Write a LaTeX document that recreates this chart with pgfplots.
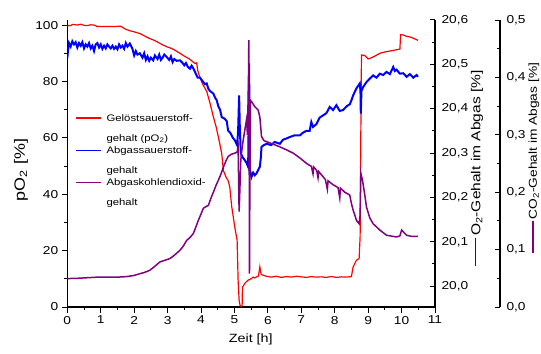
\documentclass[border=0pt]{standalone}
\usepackage{fontspec}
\setmainfont{Liberation Sans}[FakeStretch=1.2]
\usepackage{pgfplots}
\pgfplotsset{compat=1.18}
\definecolor{cRed}{RGB}{255,0,0}
\definecolor{cBlue}{RGB}{0,0,255}
\definecolor{cPurple}{RGB}{128,0,128}

\pgfplotsset{
 base/.style={
  scale only axis, height=287bp, xmin=0,
  axis line style={line width=1.3bp},
  tick style={black, line width=1bp},
  major tick length=5.5bp, minor tick length=3bp,
  tick label style={font=\fontsize{11.5}{13}\selectfont},
  /pgf/number format/assume math mode=true,
 },
 commalabels/.style={
  yticklabel style={/pgf/number format/use comma, /pgf/number format/fixed,
     /pgf/number format/fixed zerofill, /pgf/number format/precision=1, xshift=3bp},
 }
}

\begin{document}
\begin{tikzpicture}
% ---------------- left axis: pO2 ----------------
\begin{axis}[base, width=367.7bp, xmax=11, ymin=0, ymax=101.8,
  axis x line*=bottom, axis y line*=left, tick align=outside,
  xtick={0,1,2,3,4,5,6,7,8,9,10,11}, ytick={0,20,40,60,80,100},
  minor x tick num=1, minor y tick num=1,
  xlabel={Zeit [h]}, ylabel={pO\textsubscript{2} [\%]},
  xlabel style={at={(rel axis cs:0.499,-0.113)}, anchor=center, font=\fontsize{12}{14}\selectfont},
  ylabel style={at={(rel axis cs:-0.126,0.477)}, anchor=center, font=\fontsize{15}{17}\selectfont},
  legend style={at={(rel axis cs:0.021,0.672)}, anchor=north west, draw=none, fill=none,
     inner sep=0pt, row sep=4bp, column sep=5bp, nodes={inner sep=0pt},
     cells={align=left},
     font=\fontsize{9.5}{20}\selectfont},
  legend cell align=left,
  legend image code/.code={\draw[#1] (0bp,10.5bp) -- (25bp,10.5bp);},
]
\addplot[cRed, line width=1.2bp, forget plot] coordinates {
(0,99.6) (0.05,99.9) (0.1,99.8) (0.15,100.2) (0.2,100.2) (0.3,100.0) (0.4,100.3) (0.5,99.9)
(0.6,99.8) (0.7,100.1) (0.8,100.0) (0.9,99.5) (1.0,99.5) (1.2,99.5) (1.4,99.5) (1.6,99.6)
(1.65,99.2) (1.75,98.5) (1.87,98.0) (2.0,97.6) (2.17,97.0) (2.3,96.2) (2.45,95.3) (2.56,94.8)
(2.7,94.0) (2.85,93.0) (2.98,92.3) (3.1,91.8) (3.2,91.2) (3.37,90.0) (3.5,89.0) (3.65,88.0)
(3.82,86.4) (3.87,86.6) (3.9,84.0) (3.95,82.0) (4.05,79.0) (4.17,76.5) (4.27,72.3) (4.37,67.4)
(4.45,64.0) (4.52,60.3) (4.62,54.4) (4.67,48.4) (4.75,46.0) (4.81,44.9) (4.86,42.6) (4.92,35.5)
(5.01,28.4) (5.08,23.7) (5.11,9.5) (5.14,2.4) (5.17,0.5) (5.21,0.2) (5.23,0.5) (5.24,7.1)
(5.27,7.5) (5.31,8.4) (5.36,9.0) (5.41,9.5) (5.46,9.8) (5.51,10.1) (5.56,10.6) (5.61,10.3)
(5.66,10.7) (5.72,11.0) (5.76,14.2) (5.80,11.5) (5.86,11.3) (5.95,10.9) (6.1,10.6) (6.25,10.9)
(6.4,10.5) (6.55,10.8) (6.7,10.6) (6.85,10.9) (7.0,10.7) (7.15,10.5) (7.3,10.8) (7.45,10.6)
(7.6,10.7) (7.75,10.5) (7.9,10.8) (8.05,10.5) (8.2,10.7) (8.35,10.6) (8.5,10.8)
(8.55,14.2) (8.65,16.6) (8.73,17.2) (8.76,25.0) (8.78,60.0) (8.80,89.4) (8.9,89.2) (9.0,88.0)
(9.1,88.4) (9.2,89.0) (9.35,90.0) (9.55,90.6) (9.75,91.0) (9.95,91.5) (9.97,96.6) (10.05,96.5)
(10.15,96.0) (10.25,95.8) (10.34,95.4) (10.49,94.6)
};
\addlegendimage{cRed, line width=1.3bp}
\addlegendentry{Gelöstsauerstoff-\\gehalt (pO\textsubscript{2})}
\addlegendimage{cBlue, line width=1.3bp}
\addlegendentry{Abgassauerstoff-\\gehalt}
\addlegendimage{cPurple, line width=1.3bp}
\addlegendentry{Abgaskohlendioxid-\\gehalt}
\end{axis}
% ---------------- right axis 1: O2 ----------------
\begin{axis}[base, commalabels, width=367.7bp, xmax=11, ymin=19.953, ymax=20.6,
  hide x axis, axis y line*=right, tick align=inside,
  ytick={20,20.1,20.2,20.3,20.4,20.5,20.6}, minor y tick num=1,
  ylabel={\textcolor{cBlue}{\rule[0.3em]{28bp}{1.3bp}}\hspace{2bp}O\textsubscript{2}-Gehalt im Abgas [\%]},
  ylabel style={at={(rel axis cs:1.114,0.484)}, anchor=center, font=\fontsize{13}{15}\selectfont},
]
\addplot[cBlue, line width=2bp] coordinates {
(0,20.514) (0.02,20.53) (0.05,20.548) (0.1,20.54) (0.15,20.552) (0.2,20.545) (0.25,20.55)
(0.3,20.538) (0.35,20.548) (0.4,20.542) (0.45,20.55) (0.5,20.536) (0.55,20.545) (0.6,20.54)
(0.65,20.548) (0.7,20.536) (0.75,20.542) (0.8,20.53) (0.85,20.545) (0.9,20.548) (0.95,20.538)
(1.0,20.545) (1.05,20.535) (1.1,20.542) (1.15,20.536) (1.2,20.545) (1.25,20.54) (1.3,20.536)
(1.35,20.542) (1.4,20.535) (1.45,20.54) (1.5,20.534) (1.55,20.545) (1.6,20.538) (1.65,20.542)
(1.7,20.535) (1.75,20.548) (1.8,20.54) (1.87,20.547) (1.95,20.535) (2.0,20.52) (2.05,20.53)
(2.1,20.522) (2.17,20.525) (2.25,20.515) (2.3,20.525) (2.35,20.51) (2.4,20.518) (2.45,20.508)
(2.5,20.515) (2.57,20.509) (2.62,20.52) (2.7,20.512) (2.75,20.522) (2.8,20.51) (2.85,20.515)
(2.9,20.522) (2.97,20.517) (3.05,20.51) (3.1,20.518) (3.15,20.505) (3.2,20.512) (3.27,20.508)
(3.37,20.509) (3.45,20.503) (3.5,20.498) (3.55,20.503) (3.6,20.495) (3.67,20.49) (3.72,20.497)
(3.77,20.491) (3.85,20.478) (3.9,20.47) (3.97,20.47) (4.05,20.462) (4.12,20.455) (4.17,20.457)
(4.22,20.445) (4.27,20.44) (4.37,20.434) (4.42,20.425) (4.47,20.419) (4.52,20.405) (4.57,20.398)
(4.62,20.381) (4.7,20.378) (4.77,20.372) (4.81,20.351) (4.88,20.345) (4.95,20.335) (5.01,20.329)
(5.08,20.318) (5.11,20.35) (5.14,20.43) (5.16,20.36) (5.19,20.299) (5.25,20.29) (5.31,20.284)
(5.36,20.278) (5.41,20.269) (5.43,20.40) (5.44,20.502) (5.45,20.35) (5.47,20.26) (5.51,20.246)
(5.56,20.256) (5.61,20.25) (5.66,20.254) (5.71,20.262) (5.76,20.269) (5.79,20.29) (5.81,20.314)
(5.88,20.318) (5.96,20.321) (6.1,20.318) (6.2,20.325) (6.36,20.321) (6.45,20.33) (6.56,20.333)
(6.65,20.336) (6.8,20.34) (6.96,20.34) (7.05,20.346) (7.15,20.35) (7.25,20.35) (7.3,20.37)
(7.35,20.359) (7.45,20.365) (7.55,20.38) (7.65,20.385) (7.75,20.39) (7.85,20.404) (7.95,20.397)
(8.05,20.408) (8.15,20.395) (8.25,20.397) (8.35,20.405) (8.45,20.41) (8.5,20.419) (8.55,20.43)
(8.65,20.446) (8.75,20.457) (8.77,20.44) (8.78,20.389) (8.8,20.44) (8.85,20.449) (8.95,20.46)
(9.05,20.468) (9.15,20.475) (9.25,20.47) (9.35,20.479) (9.45,20.476) (9.55,20.483) (9.65,20.478)
(9.75,20.494) (9.8,20.485) (9.85,20.488) (9.95,20.479) (10.05,20.48) (10.15,20.472) (10.25,20.478)
(10.35,20.47) (10.45,20.476) (10.49,20.472)
};
\end{axis}
% ---------------- right axis 2: CO2 ----------------
\begin{axis}[base, commalabels, width=432.7bp, xmax=12.944, ymin=0, ymax=0.5,
  hide x axis, axis y line*=right, tick align=inside,
  ytick={0,0.1,0.2,0.3,0.4,0.5}, minor y tick num=1,
  ylabel={\textcolor{cPurple}{\rule[0.3em]{32bp}{1.3bp}}\hspace{2bp}CO\textsubscript{2}-Gehalt im Abgas [\%]},
  ylabel style={at={(rel axis cs:1.0786,0.519)}, anchor=center, font=\fontsize{11.5}{13}\selectfont},
]
\addplot[cPurple, line width=1.5bp] coordinates {
(0,0.0495) (0.3,0.050) (0.6,0.051) (0.9,0.052) (1.2,0.052) (1.5,0.052) (1.78,0.053) (2.0,0.055)
(2.17,0.058) (2.3,0.060) (2.47,0.064) (2.6,0.070) (2.77,0.0785) (2.9,0.081) (3.07,0.0844)
(3.2,0.090) (3.37,0.0989) (3.47,0.106) (3.57,0.116) (3.67,0.121) (3.77,0.128) (3.85,0.14)
(3.92,0.151) (4.0,0.162) (4.07,0.172) (4.15,0.175) (4.22,0.177) (4.3,0.19) (4.37,0.2)
(4.45,0.212) (4.52,0.221) (4.6,0.232) (4.67,0.244) (4.75,0.255) (4.81,0.262) (4.9,0.266)
(5.01,0.268) (5.08,0.27) (5.11,0.279) (5.13,0.20) (5.14,0.166) (5.16,0.20) (5.19,0.255)
(5.21,0.268) (5.26,0.29) (5.31,0.308) (5.36,0.326) (5.39,0.30) (5.42,0.40) (5.43,0.465)
(5.44,0.30) (5.45,0.058) (5.46,0.20) (5.48,0.36) (5.52,0.357) (5.61,0.349) (5.71,0.343)
(5.76,0.331) (5.81,0.297) (5.88,0.29) (5.96,0.288) (6.1,0.285) (6.36,0.279) (6.55,0.274)
(6.76,0.268) (6.95,0.26) (7.16,0.25) (7.3,0.245) (7.35,0.232) (7.37,0.244) (7.46,0.238)
(7.5,0.225) (7.52,0.236) (7.65,0.227) (7.72,0.222) (7.78,0.205) (7.8,0.22) (7.95,0.213)
(8.1,0.208) (8.15,0.19) (8.17,0.207) (8.3,0.2) (8.45,0.195) (8.5,0.18) (8.55,0.169)
(8.65,0.151) (8.73,0.145) (8.76,0.16) (8.78,0.233) (8.83,0.221) (8.9,0.195) (8.95,0.174)
(9.05,0.155) (9.15,0.145) (9.35,0.134) (9.55,0.125) (9.85,0.122) (9.95,0.124) (10.0,0.134)
(10.1,0.128) (10.15,0.125) (10.3,0.123) (10.49,0.123)
};
\end{axis}
\pgfresetboundingbox
\path[use as bounding box] (-67.3bp,-47bp) rectangle (473.7bp,307bp);
\end{tikzpicture}
\end{document}
